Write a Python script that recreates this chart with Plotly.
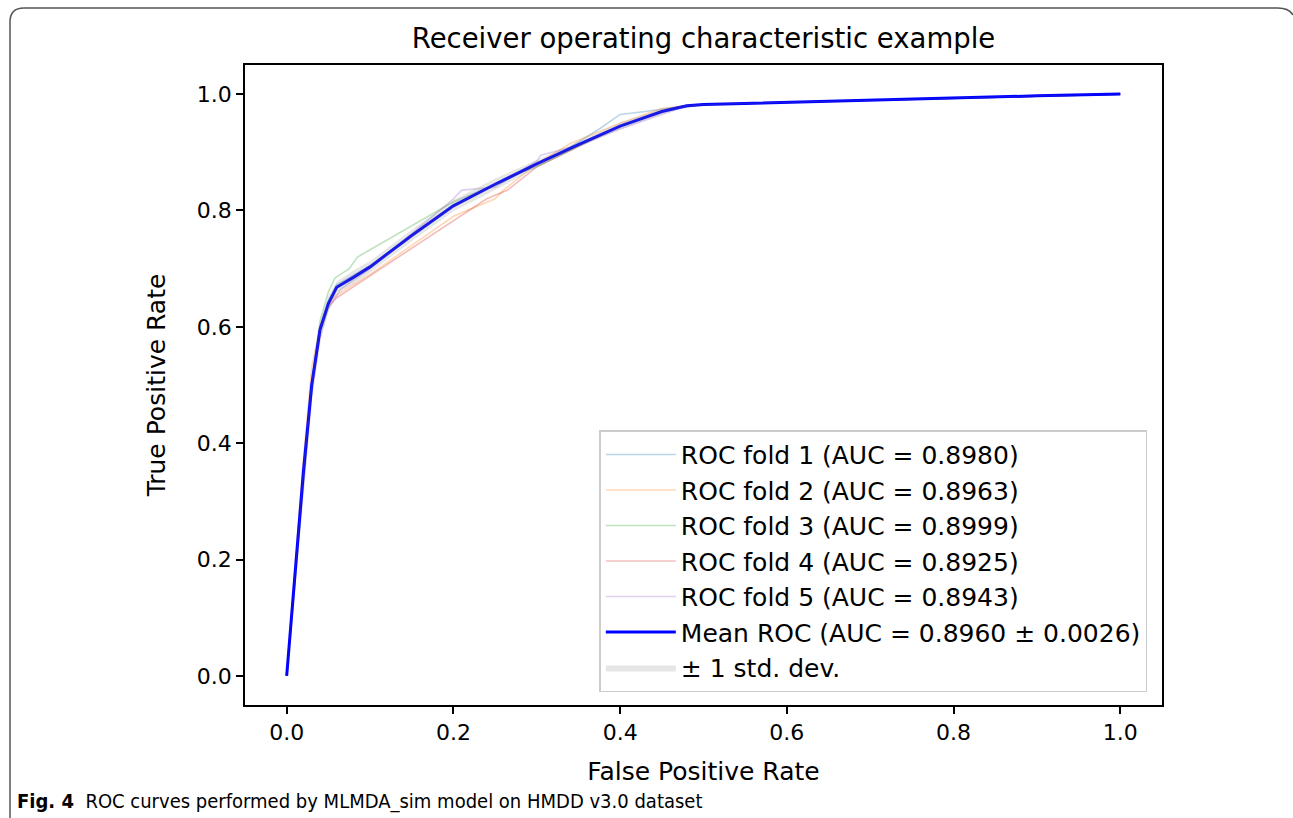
import plotly.graph_objects as go

# ---------------- data ----------------
fold_names = ["ROC fold 1 (AUC = 0.8980)", "ROC fold 2 (AUC = 0.8963)", "ROC fold 3 (AUC = 0.8999)",
              "ROC fold 4 (AUC = 0.8925)", "ROC fold 5 (AUC = 0.8943)"]

fold1_fpr = [0, 0.01, 0.03, 0.04, 0.05, 0.06, 0.10, 0.20, 0.26, 0.30, 0.33, 0.375, 0.40, 0.43, 0.47, 0.50, 0.60, 0.80, 1.0]
fold1_tpr = [0, 0.17, 0.49, 0.60, 0.645, 0.672, 0.705, 0.81, 0.85, 0.88, 0.90, 0.94, 0.965, 0.97, 0.978, 0.982, 0.986, 0.993, 1.0]

fold2_fpr = [0, 0.01, 0.02, 0.03, 0.04, 0.05, 0.06, 0.10, 0.20, 0.25, 0.26, 0.30, 0.34, 0.40, 0.45, 0.48, 0.60, 1.0]
fold2_tpr = [0, 0.19, 0.37, 0.53, 0.60, 0.64, 0.655, 0.69, 0.79, 0.82, 0.835, 0.88, 0.915, 0.95, 0.975, 0.98, 0.986, 1.0]

fold3_fpr = [0, 0.01, 0.03, 0.04, 0.05, 0.058, 0.075, 0.085, 0.20, 0.26, 0.27, 0.30, 0.35, 0.40, 0.46, 0.50, 0.70, 1.0]
fold3_tpr = [0, 0.17, 0.50, 0.61, 0.66, 0.684, 0.70, 0.72, 0.815, 0.85, 0.86, 0.875, 0.91, 0.945, 0.975, 0.982, 0.989, 1.0]

fold4_fpr = [0, 0.01, 0.03, 0.04, 0.05, 0.06, 0.24, 0.265, 0.30, 0.35, 0.40, 0.47, 0.50, 0.80, 1.0]
fold4_tpr = [0, 0.18, 0.50, 0.60, 0.635, 0.65, 0.82, 0.835, 0.875, 0.91, 0.945, 0.978, 0.982, 0.993, 1.0]

fold5_fpr = [0, 0.01, 0.02, 0.03, 0.04, 0.05, 0.065, 0.10, 0.20, 0.21, 0.25, 0.30, 0.305, 0.35, 0.40, 0.47, 0.50, 1.0]
fold5_tpr = [0, 0.16, 0.33, 0.48, 0.58, 0.63, 0.665, 0.70, 0.82, 0.835, 0.84, 0.885, 0.895, 0.912, 0.94, 0.975, 0.982, 1.0]

mean_fpr = [0, 0.01, 0.02, 0.03, 0.04, 0.05, 0.06, 0.08, 0.10, 0.15, 0.20, 0.25, 0.30, 0.35, 0.40, 0.45,
            0.48, 0.50, 0.60, 0.70, 0.80, 0.90, 1.0]
mean_tpr = [0, 0.18, 0.35, 0.50, 0.595, 0.64, 0.668, 0.685, 0.703, 0.757, 0.808, 0.845, 0.88, 0.913, 0.945,
            0.97, 0.98, 0.982, 0.986, 0.989, 0.993, 0.997, 1.0]
std_tpr = [0, 0.01, 0.015, 0.015, 0.012, 0.012, 0.01, 0.012, 0.01, 0.01, 0.01, 0.01, 0.006, 0.005, 0.006,
           0.004, 0.002, 0.001, 0.001, 0.001, 0.001, 0.0005, 0]

mean_name = "Mean ROC (AUC = 0.8960 \u00b1 0.0026)"
std_name = "\u00b1 1 std. dev."

x_ticks = [0.0, 0.2, 0.4, 0.6, 0.8, 1.0]
y_ticks = [0.0, 0.2, 0.4, 0.6, 0.8, 1.0]
tick_text = ["0.0", "0.2", "0.4", "0.6", "0.8", "1.0"]

fold_colors = ["#1f77b4", "#ff7f0e", "#2ca02c", "#d62728", "#9467bd"]

# ---------------- figure ----------------
W, H = 1293, 818
L, R, T, B = 245, 1162, 65, 705


def px(x):
    return (x - L) / (R - L)


def py(y):
    return (B - y) / (B - T)


fig = go.Figure()
folds = [(fold1_fpr, fold1_tpr), (fold2_fpr, fold2_tpr), (fold3_fpr, fold3_tpr),
         (fold4_fpr, fold4_tpr), (fold5_fpr, fold5_tpr)]
for i, (fx, fy) in enumerate(folds):
    fig.add_trace(go.Scatter(x=fx, y=fy, mode="lines", name=fold_names[i], opacity=0.3,
                             line=dict(color=fold_colors[i], width=1.6), legendgroup=f"g{i}"))

upper = [min(m + s, 1.0) for m, s in zip(mean_tpr, std_tpr)]
lower = [max(m - s, 0.0) for m, s in zip(mean_tpr, std_tpr)]

fig.add_trace(go.Scatter(x=mean_fpr, y=mean_tpr, mode="lines", name=mean_name,
                         line=dict(color="#0000ff", width=3), legendgroup="g5"))
fig.add_trace(go.Scatter(x=mean_fpr, y=lower, mode="lines", line=dict(width=0, color="rgba(128,128,128,0)"),
                         showlegend=False, hoverinfo="skip", legendgroup="g6"))
fig.add_trace(go.Scatter(x=mean_fpr, y=upper, mode="lines", line=dict(width=0, color="rgba(128,128,128,0)"),
                         fill="tonexty", fillcolor="rgba(128,128,128,0.2)", name=std_name, legendgroup="g6"))

axis_common = dict(showgrid=False, zeroline=False, showline=True, mirror=True, linecolor="black",
                   linewidth=1.5, ticks="outside", ticklen=7, tickwidth=1.5, tickcolor="black",
                   tickfont=dict(family="DejaVu Sans", size=22, color="black"))

fig.update_xaxes(range=[-0.05, 1.05], tickvals=x_ticks, ticktext=tick_text,
                 title=dict(text="False Positive Rate", font=dict(family="DejaVu Sans", size=25, color="black"),
                            standoff=18), **axis_common)
fig.update_yaxes(range=[-0.05, 1.05], tickvals=y_ticks, ticktext=tick_text,
                 title=dict(text="True Positive Rate", font=dict(family="DejaVu Sans", size=25, color="black"),
                            standoff=24), **axis_common)

frame_path = (f"M {px(10)},{py(818)} L {px(10)},{py(22)} Q {px(10)},{py(8)} {px(24)},{py(8)} "
              f"L {px(1278)},{py(8)} Q {px(1289)},{py(8)} {px(1293)},{py(15)}")

fig.update_layout(
    width=W, height=H,
    margin=dict(l=L, r=W - R, t=T, b=H - B),
    paper_bgcolor="white", plot_bgcolor="white",
    title=dict(text="Receiver operating characteristic example", x=0.5, xref="paper",
               y=1 - 38 / H, yanchor="middle", font=dict(family="DejaVu Sans", size=27.5, color="black")),
    legend=dict(x=0.984, y=0.02, xanchor="right", yanchor="bottom", bgcolor="white",
                bordercolor="#cccccc", borderwidth=1.5, font=dict(family="DejaVu Sans", size=25, color="black"),
                tracegroupgap=4, itemwidth=70, traceorder="normal"),
    shapes=[dict(type="path", xref="paper", yref="paper", path=frame_path,
                 line=dict(color="#555555", width=1.5))],
    annotations=[dict(text="<b>Fig. 4</b>  ROC curves performed by MLMDA_sim model on HMDD v3.0 dataset",
                      xref="paper", yref="paper", x=px(15), y=py(801), xanchor="left", yanchor="middle",
                      showarrow=False,
                      font=dict(family="Liberation Sans Narrow, DejaVu Sans Condensed, Noto Sans", size=20,
                                color="black"))],
)

fig.write_html("out.html")
